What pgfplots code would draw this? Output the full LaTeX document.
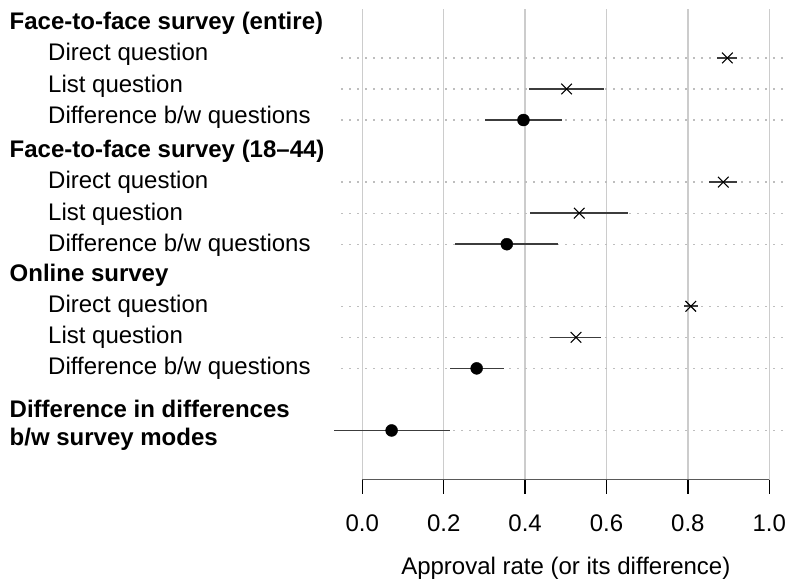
\documentclass[border=0pt]{standalone}
\usepackage{fontspec}
\setmainfont{Liberation Sans}
\usepackage{pgfplots}
\usepackage{pgfplotstable}
\pgfplotsset{compat=1.18}

% y = row position (top = 14), x = estimate, lo/hi = interval
\pgfplotstableread{
y  x      lo      hi
13 0.897  0.872   0.921
12 0.502  0.410   0.594
9  0.887  0.852   0.921
8  0.533  0.411   0.654
5  0.807  0.790   0.825
4  0.525  0.462   0.587
}\crosses
\pgfplotstableread{
y  x      lo      hi
11 0.396  0.301   0.490
7  0.355  0.227   0.481
3  0.281  0.215   0.347
1  0.072  -0.069  0.215
}\dots

\definecolor{gridc}{RGB}{204,204,204}
\definecolor{dotc}{RGB}{190,190,190}
\definecolor{cic}{RGB}{60,60,60}

\begin{document}
\begin{tikzpicture}[font=\fontsize{24bp}{28.8bp}\selectfont]
\path[use as bounding box] (0,0) rectangle (788bp,581bp);
\begin{axis}[
  at={(333.81bp,101.5bp)}, anchor=south west,
  scale only axis, width=451.77bp, height=470.6bp,
  xmin=-0.07, xmax=1.04, ymin=-0.58, ymax=14.58,
  hide axis, clip=false]
  % vertical grid lines
  \pgfplotsinvokeforeach{0,0.2,0.4,0.6,0.8,1.0}{
    \draw[gridc, line width=1.3bp] (axis cs:#1,-0.58) -- (axis cs:#1,14.58);
  }
  % dotted row lines
  \pgfplotsinvokeforeach{13,12,11,9,8,7,5,4,3,1}{
    \draw[dotc, line width=1.3bp, dash pattern=on 2bp off 6bp] (axis cs:-0.052,#1) -- (axis cs:1.04,#1);
  }
  % x axis line and ticks
  \draw[black!65, line width=1.8bp] (axis cs:0,-0.58) -- (axis cs:1,-0.58);
  \pgfplotsinvokeforeach{0.0,0.2,0.4,0.6,0.8,1.0}{
    \draw[black, line width=1.3bp] (axis cs:#1,-0.58) -- ([yshift=-14bp]axis cs:#1,-0.58);
    \node[anchor=base, inner sep=0pt] at ([yshift=-52.2bp]axis cs:#1,-0.58) {#1};
  }
  \node[anchor=base, inner sep=0pt] at ([yshift=-94.5bp]axis cs:0.5,-0.58) {Approval rate (or its difference)};
  % confidence intervals
  \addplot[draw=none, mark=none, error bars/.cd, x dir=both, x explicit,
    error mark=none, error bar style={cic, line width=1.6bp}]
    table[x=x, y=y, x error plus expr=\thisrow{hi}-\thisrow{x}, x error minus expr=\thisrow{x}-\thisrow{lo}] {\crosses};
  \addplot[draw=none, mark=none, error bars/.cd, x dir=both, x explicit,
    error mark=none, error bar style={cic, line width=1.6bp}]
    table[x=x, y=y, x error plus expr=\thisrow{hi}-\thisrow{x}, x error minus expr=\thisrow{x}-\thisrow{lo}] {\dots};
  % point estimates
  \addplot[only marks, mark=x, mark size=7.5bp, mark options={black, line width=1.1bp}] table[x=x, y=y] {\crosses};
  \addplot[only marks, mark=*, mark size=6bp, mark options={black, fill=black}] table[x=x, y=y] {\dots};
\end{axis}
% row labels
\begin{scope}[every node/.style={anchor=base west, inner sep=0pt}]
\node[font=\fontsize{24bp}{28.8bp}\selectfont\bfseries] at (9.5bp,551.5bp) {Face-to-face survey (entire)};
\node at (48bp,520.1bp) {Direct question};
\node at (48bp,488.7bp) {List question};
\node at (48bp,457.3bp) {Difference b/w questions};
\node[font=\fontsize{24bp}{28.8bp}\selectfont\bfseries] at (9.5bp,423.6bp) {Face-to-face survey (18\textendash 44)};
\node at (48bp,392.2bp) {Direct question};
\node at (48bp,360.8bp) {List question};
\node at (48bp,329.6bp) {Difference b/w questions};
\node[font=\fontsize{24bp}{28.8bp}\selectfont\bfseries] at (9.5bp,299bp) {Online survey};
\node at (48bp,268.3bp) {Direct question};
\node at (48bp,237.2bp) {List question};
\node at (48bp,206.1bp) {Difference b/w questions};
\node[font=\fontsize{24bp}{28.8bp}\selectfont\bfseries] at (9.5bp,163.7bp) {Difference in differences};
\node[font=\fontsize{24bp}{28.8bp}\selectfont\bfseries] at (9.5bp,135.3bp) {b/w survey modes};
\end{scope}
\end{tikzpicture}
\end{document}
